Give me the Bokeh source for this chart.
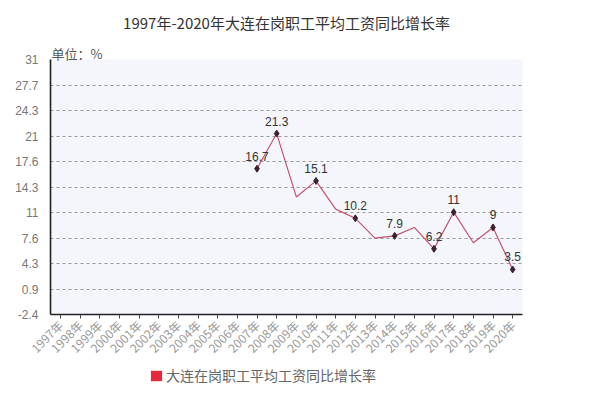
import math
from bokeh.plotting import figure
from bokeh.layouts import column
from bokeh.models import (ColumnDataSource, FixedTicker, CustomJSTickFormatter, Label,
                          FactorRange, Legend, LegendItem)
from bokeh.embed import file_html
from bokeh.resources import INLINE

nan = float("nan")

years = ["1997年", "1998年", "1999年", "2000年", "2001年", "2002年", "2003年", "2004年",
         "2005年", "2006年", "2007年", "2008年", "2009年", "2010年", "2011年", "2012年",
         "2013年", "2014年", "2015年", "2016年", "2017年", "2018年", "2019年", "2020年"]
growth = [nan, nan, nan, nan, nan, nan, nan, nan, nan, nan,
          16.7, 21.3, 13.0, 15.1, 11.4, 10.2, 7.6, 7.9, 9.0, 6.2, 11.0, 7.0, 9.0, 3.5]

label_years = ["2007年", "2008年", "2010年", "2012年", "2014年", "2016年", "2017年", "2019年", "2020年"]
label_values = [16.7, 21.3, 15.1, 10.2, 7.9, 6.2, 11.0, 9.0, 3.5]
label_texts = ["16.7", "21.3", "15.1", "10.2", "7.9", "6.2", "11", "9", "3.5"]

y_ticks = [-2.4, 0.94, 4.28, 7.62, 10.96, 14.3, 17.64, 20.98, 24.32, 27.66, 31.0]
y_tick_labels = ["-2.4", "0.9", "4.3", "7.6", "11", "14.3", "17.6", "21", "24.3", "27.7", "31"]

title_text = "1997年-2020年大连在岗职工平均工资同比增长率"
series_name = "大连在岗职工平均工资同比增长率"
unit_text = "单位：%"

FONT = "Noto Sans CJK SC"
Y0, Y1 = -2.4, 31
FW, BL, BR = 472, 50, 78  # shared frame width and side borders


def strip(h):
    f = figure(frame_width=FW, frame_height=h, x_range=(0, FW), y_range=(0, h),
               output_backend="svg", toolbar_location=None,
               min_border_left=BL, min_border_right=BR, min_border_top=0, min_border_bottom=0,
               outline_line_color=None, background_fill_color="white")
    f.axis.visible = False
    f.grid.visible = False
    return f


# ---- title strip ----
hd = strip(40)
hd.add_layout(Label(x=FW / 2, y=18, text=title_text, text_font=FONT, text_font_size="15px",
                    text_color="#333333", text_align="center", text_baseline="middle"))

# ---- main chart ----
p = figure(frame_width=FW, frame_height=255, x_range=FactorRange(*years), y_range=(Y0, Y1),
           output_backend="svg", toolbar_location=None,
           min_border_left=BL, min_border_right=BR, min_border_top=19, min_border_bottom=44,
           background_fill_color="#f4f6fb", border_fill_color="white", outline_line_color=None)

# unit label, just above the frame
p.title.text = unit_text
p.title.align = "left"
p.title.offset = 1
p.title.text_font = FONT
p.title.text_font_size = "13px"
p.title.text_font_style = "normal"
p.title.text_color = "#555555"
p.title.standoff = -6

line_src = ColumnDataSource(dict(x=years, y=growth))
p.line("x", "y", source=line_src, line_color="#c4546f", line_width=1.2)

lab_src = ColumnDataSource(dict(x=label_years, y=label_values, t=label_texts))
p.scatter("x", "y", source=lab_src, marker="diamond", size=7, color="#3b2330")
p.text("x", "y", text="t", source=lab_src, text_font_size="12px",
       text_color="#333333", text_align="center", text_baseline="bottom", y_offset=-8)

# axes
p.yaxis.ticker = FixedTicker(ticks=y_ticks)
p.yaxis.formatter = CustomJSTickFormatter(args=dict(labels=y_tick_labels),
                                          code="return labels[index];")
p.yaxis.major_tick_line_color = None
p.yaxis.minor_tick_line_color = None
p.yaxis.axis_line_color = "#222222"
p.yaxis.axis_line_width = 1.6
p.yaxis.major_label_text_font_size = "12px"
p.yaxis.major_label_text_color = "#777777"
p.yaxis.major_label_standoff = 6

p.xaxis.axis_line_color = "#222222"
p.xaxis.axis_line_width = 1.6
p.xaxis.major_tick_line_color = "#444444"
p.xaxis.major_tick_in = 0
p.xaxis.major_tick_out = 4
p.xaxis.major_label_orientation = math.pi / 4
p.xaxis.major_label_text_font = FONT
p.xaxis.major_label_text_font_size = "12px"
p.xaxis.major_label_text_color = "#999999"
p.xaxis.major_label_standoff = 4

p.xgrid.grid_line_color = None
p.ygrid.grid_line_color = "#9a9a9a"
p.ygrid.grid_line_dash = "3 3"
p.ygrid.grid_line_width = 1

# ---- legend strip ----
lg = strip(41)
# swatch renderer placed outside the visible range: only its legend entry shows
sw = lg.quad(left=[-20], right=[-10], top=[-10], bottom=[-20], fill_color="#e8283c", line_color=None)
legend = Legend(items=[LegendItem(label=series_name, renderers=[sw])],
                location=(99, 20), orientation="horizontal",
                label_text_font=FONT, label_text_font_size="14px", label_text_color="#666666",
                glyph_width=14, glyph_height=13, border_line_color=None,
                background_fill_alpha=0, padding=0, margin=0, label_standoff=3,
                label_height=16)
lg.add_layout(legend)

layout = column(hd, p, lg, spacing=0)
open("out.html", "w").write(file_html(layout, INLINE))
